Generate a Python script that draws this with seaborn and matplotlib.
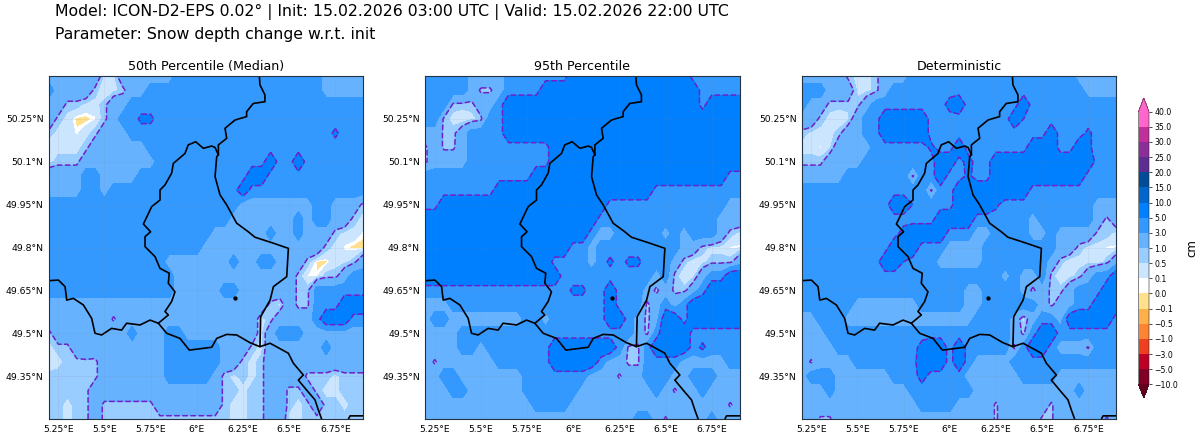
import numpy as np
import seaborn as sns
import matplotlib
matplotlib.use('Agg')
import matplotlib.pyplot as plt
from matplotlib.colors import ListedColormap, BoundaryNorm

sns.set_style('white', {'text.color': 'black', 'xtick.color': 'black', 'ytick.color': 'black',
                        'axes.labelcolor': 'black'})
plt.rcParams['font.family'] = ['DejaVu Sans']

# snow depth change in cm, rows north to south, 0.05 deg grid
lons = np.arange(35) * 0.05 + 5.2
lats = 50.4 - np.arange(25) * 0.05

median_rows = [
    [2,2,2,2,2,2,.3,.3,2,2,2,2,2,2,4,4,4,4,4,4,4,4,4,4,4,4,4,4,4,4,2,2,2,2,2],
    [4,2,2,2,2,.7,.05,.3,.7,2,2,4,4,4,4,4,4,4,4,4,4,4,4,4,4,4,4,4,4,4,2,2,2,2,2],
    [2,2,.7,.7,.3,.3,.7,2,2,4,4,4,4,4,4,4,4,4,4,4,4,4,4,4,4,4,4,4,4,4,4,4,4,4,4],
    [2,.7,.3,-.09,-.09,.05,.7,2,4,4,5.5,5.5,4,4,4,4,4,4,4,4,4,4,4,4,4,4,4,4,4,4,4,4,4,4,4],
    [.7,.3,.3,.05,.3,.7,2,2,2,4,4,4,4,4,4,4,4,4,4,4,4,4,4,4,4,4,4,4,4,4,4,5.5,4,4,4],
    [.05,.3,.3,.3,.7,2,2,2,2,2,2,4,4,4,4,4,4,4,4,4,4,4,4,4,4,4,4,4,4,4,4,4,4,4,4],
    [.3,.7,.7,.7,2,2,2,2,2,2,2,2,4,4,4,4,4,4,4,4,4,4,4,4,7,4,4,7,4,4,4,4,4,4,4],
    [2,2,2,2,4,4,2,2,2,2,4,4,4,4,4,4,4,4,4,4,4,4,7,7,4,4,4,4,4,4,4,4,4,4,4],
    [2,2,2,2,4,4,2,4,4,4,4,4,4,4,4,4,4,4,4,4,4,7,4,4,4,4,4,4,4,4,4,4,4,4,4],
    [4,4,4,4,4,4,4,4,4,4,4,4,4,4,4,4,4,4,4,4,4,2,2,2,2,2,2,2,2,4,4,2,2,2,.7],
    [4,4,4,4,4,4,4,4,4,4,4,4,4,4,4,4,4,4,4,4,2,2,2,2,2,2,2,4,2,4,4,2,2,.7,.3],
    [4,4,4,4,4,4,4,4,4,4,4,4,4,4,4,4,4,4,2,2,2,2,2,2,4,2,2,4,2,2,2,.7,.3,.3,.05],
    [4,4,4,4,4,4,4,4,4,4,4,4,4,4,4,4,4,2,2,2,2,2,2,2,2,2,2,2,2,2,.7,.3,.05,-.09,-.09],
    [4,4,4,4,4,4,4,4,4,4,4,4,4,2,2,2,2,2,2,2,4,2,2,4,4,2,2,2,.7,-.09,-.09,.3,.3,.7,2],
    [4,4,4,4,4,4,4,4,4,4,4,4,4,4,2,2,2,2,2,2,2,2,2,2,2,2,2,.7,.05,.05,.7,.7,2,4,4],
    [4,4,4,4,4,4,4,4,4,4,4,4,4,4,2,2,2,2,2,4,4,2,2,2,2,2,2,.7,.7,4,4,4,4,4,4],
    [2,2,2,2,2,2,2,2,2,2,2,2,2,2,2,2,2,2,2,2,2,2,2,2,.7,.3,2,.7,.7,4,4,4,7,7,7],
    [2,2,2,2,2,2,2,.8,2,2,2,2,2,2,2,2,2,2,2,2,2,2,2,.3,.7,2,2,2,2,4,7,7,7,4,4],
    [.7,2,2,2,2,2,2,2,2,4,2,2,2,4,4,2,2,2,2,2,2,2,2,.3,2,4,4,4,2,2,2,2,2,2,2],
    [.3,.7,.7,2,2,2,2,2,2,2,2,2,2,4,4,4,4,4,4,2,2,2,.7,.3,2,2,2,2,2,2,4,2,2,2,2],
    [.05,.3,.7,.7,.8,.7,2,2,2,2,2,2,2,4,4,4,4,4,4,2,2,.7,.3,.7,2,2,2,2,2,2,2,2,2,2,2],
    [.7,.7,.7,.7,.7,.7,2,2,2,2,2,2,2,4,4,4,4,4,2,.7,.3,.7,.3,.7,2,2,2,2,.7,.7,.7,.3,.7,.7,.7],
    [.7,.7,.7,.7,.7,2,2,2,2,2,2,2,2,2,2,2,2,2,2,.7,.7,.3,.7,.7,2,2,.7,.7,2,.7,.3,.3,.7,.7,.7],
    [.7,.7,.3,.7,.7,2,.7,.7,.7,.7,.7,.7,2,2,2,2,2,2,2,.7,.3,.3,.7,.7,2,2,.7,.3,.7,2,.7,.7,.3,.7,.7],
    [.7,.7,.3,.7,.7,2,.7,.7,.7,.7,.7,.7,.7,.7,.7,.7,.7,.7,.7,.7,.3,.3,.7,.7,2,2,.3,.3,.7,.7,.7,.7,.7,.7,.7],
]

p95_rows = [
    [4,4,4,4,4,2,2,2,2,4,4,4,4,4,4,4,7,7,7,7,7,7,7,7,7,7,7,7,7,4,4,4,4,4,4],
    [4,4,4,4,4,2,.8,.8,2,4,4,4,4,7,7,7,7,7,7,7,7,7,7,7,7,7,7,7,7,7,4,4,4,4,4],
    [4,4,4,.7,.7,.7,2,2,4,7,7,7,7,7,7,7,7,7,7,7,7,7,7,7,7,7,7,7,7,7,4,7,7,7,7],
    [4,4,.7,.3,.05,.3,.7,4,4,7,7,7,7,7,7,7,7,7,7,7,7,7,7,7,7,7,7,7,7,7,7,7,7,7,7],
    [2,2,.8,.7,2,4,4,4,4,7,7,7,7,7,7,7,7,7,7,7,7,7,7,7,7,7,7,7,7,7,7,7,7,7,7],
    [.8,2,.8,.8,2,4,4,4,4,4,4,4,4,4,7,7,7,7,7,7,7,7,7,7,7,7,7,7,7,7,7,7,7,7,7],
    [.8,2,2,2,2,4,4,4,4,4,4,4,4,4,7,7,7,7,7,7,7,7,7,7,7,7,7,7,7,7,7,7,7,7,7],
    [4,4,4,4,4,4,4,4,4,4,4,4,7,7,7,7,7,7,7,7,7,7,7,7,7,7,7,7,7,7,7,7,7,4,4],
    [4,4,4,4,4,4,4,4,7,7,7,7,7,7,7,7,7,7,7,7,7,7,7,7,7,4,4,4,4,4,4,4,4,4,4],
    [4,4,7,7,7,7,7,7,7,7,7,7,7,7,7,7,7,7,7,7,4,4,4,4,4,4,4,4,4,4,4,4,4,2,2],
    [7,7,7,7,7,7,7,7,7,7,7,7,7,7,7,7,7,7,7,4,4,4,4,4,4,4,4,4,4,4,4,4,2,2,2],
    [7,7,7,7,7,7,7,7,7,7,7,7,7,7,7,7,7,7,4,2,2,4,4,4,4,4,2,4,2,4,4,4,2,.7,.3],
    [7,7,7,7,7,7,7,7,7,7,7,7,7,7,7,7,4,4,2,4,4,4,4,4,4,4,4,4,2,2,.7,.3,.3,.05,.05],
    [7,7,7,7,7,7,7,7,7,7,7,7,7,7,4,4,4,4,2,4,5.5,4,5.5,5.5,4,4,4,2,.7,.05,.3,.7,.7,.7,2],
    [7,7,7,7,7,7,7,7,7,7,7,7,7,7,7,4,4,4,4,4,4,4,4,4,4,2,4,.7,.05,.3,2,4,4,7,7],
    [4,4,4,4,4,4,4,4,4,4,4,4,4,4,4,4,5.5,5.5,4,4,7,4,4,4,2,.7,2,.7,.7,2,4,7,7,7,7],
    [2,2,2,4,4,4,4,4,4,4,4,4,4,4,4,4,4,4,4,4,7,4,4,4,.7,2,4,2,4,7,7,7,7,7,7],
    [2,4,4,2,2,2,2,2,2,2,2,4,4,2,4,4,4,4,4,4,7,7,4,2,.7,2,7,7,4,7,7,7,7,7,7],
    [2,2,2,2,4,4,4,4,4,4,4,4,4,4,4,4,4,4,4,4,4,4,4,2,.7,4,7,7,7,4,4,4,4,4,4],
    [2,2,2,2,4,4,2,4,4,4,4,4,4,4,7,7,7,7,7,7,7,4,.7,.7,4,7,7,7,7,4,5.5,4,4,4,4],
    [2,.8,2,2,2,2,2,2,4,4,4,4,4,4,7,7,7,7,7,4,2,2,.7,.7,4,4,4,4,2,2,2,2,2,4,4],
    [2,2,4,4,2,2,2,2,2,2,2,4,4,4,4,4,4,4,2,2,2,.8,2,2,4,4,4,2,2,4,4,4,2,2,2],
    [2,2,2,4,4,2,2,2,2,2,2,4,4,4,4,4,4,2,2,2,2,2,2,2,2,4,2,.8,2,2,4,2,2,2,2],
    [2,2,2,2,2,2,2,2,2,2,2,2,4,4,4,4,2,2,2,2,2,2,2,2,2,2,2,2,2,2,2,2,2,.8,2],
    [2,2,2,2,2,2,2,2,2,2,2,2,2,2,2,2,2,2,2,2,2,2,2,4,4,2,.8,2,2,2,2,4,2,2,2],
]

det_rows = [
    [2,2,2,2,2,.7,.3,.3,.7,2,2,2,4,4,4,4,4,4,4,4,4,4,4,4,4,4,4,4,4,4,2,2,2,2,2],
    [4,4,4,2,2,2,.3,.3,.7,2,4,4,4,4,4,4,4,4,4,4,4,4,4,4,4,4,4,4,4,4,4,2,2,2,2],
    [4,2,2,.7,.7,.7,.7,2,4,4,4,4,4,4,4,4,6,7,4,4,4,4,4,4,7,4,4,4,4,4,4,4,4,4,4],
    [2,2,.7,.3,.05,.3,2,4,4,7,7,7,7,7,4,4,4,4,4,4,4,4,4,7,5,4,4,4,4,4,4,4,4,4,4],
    [.7,.3,.3,.3,.7,2,2,4,4,7,7,7,7,7,4,4,4,4,4,4,4,4,4,4,4,4,4,7,4,4,4,5.5,4,4,4],
    [.3,.3,.05,.3,2,2,2,2,4,4,4,4,4,4,5.5,4,4,7,4,4,4,4,4,4,4,7,7,7,4,4,7,5.5,4,4,4],
    [.7,.7,.7,2,2,2,2,4,4,4,4,4,4,4,4,7,7,4,6,4,4,7,7,7,7,7,7,7,7,7,7,7,4,4,4],
    [2,2,2,2,2,4,4,4,4,4,4,4,.8,4,4,7,4,4,5.5,4,4,7,7,7,7,7,7,7,7,7,7,4,4,4,4],
    [4,4,4,4,4,4,4,4,4,4,4,4,4,4,.8,4,4,7,7,7,7,7,7,7,7,4,4,4,4,4,4,4,4,4,4],
    [4,4,4,4,4,4,4,4,4,4,7,7,5,4,4,4,4,7,7,7,7,5.5,4,4,4,4,4,4,4,4,4,4,2,2,2],
    [4,4,4,4,4,4,4,4,4,4,4,4,4,4,4,7,7,7,7,4,4,4,4,4,4,2,4,4,4,4,4,4,2,.8,2],
    [4,4,4,4,4,4,4,4,4,4,4,6,7,7,7,7,4,4,4,2,2,4,4,4,4,2,2,4,2,2,2,2,.8,.7,.3],
    [4,4,4,4,4,4,4,4,4,4,7,7,7,4,4,4,2,2,2,2,4,4,4,4,4,4,4,4,2,2,.7,.3,.3,.05,.05],
    [4,4,4,4,4,4,4,4,4,7,7,5,4,4,4,2,2,2,2,2,4,4,4,4,4,4,4,2,.7,.05,.3,.3,.05,.7,2],
    [4,4,4,4,4,4,4,4,4,4,4,4,4,4,4,4,4,4,4,4,4,4,2,4,2,2,4,.7,.05,.3,.7,2,4,4,7],
    [4,4,4,4,4,4,4,4,4,4,4,4,4,4,4,4,4,4,2,2,4,4,4,4,2,.7,2,.7,.7,2,4,4,4,7,7],
    [4,4,4,4,4,4,2,2,2,2,2,2,2,4,4,4,4,4,2,2,4,4,4,4,4,4,2,.7,2,2,4,4,7,7,7],
    [2,2,4,4,4,2,2,2,2,2,2,2,2,2,2,2,2,2,2,4,4,4,4,2,.3,2,4,4,2,7,7,7,7,7,4],
    [2,2,2,4,4,4,4,4,4,4,4,4,4,4,4,4,4,4,4,4,4,4,4,2,.7,4,7,7,4,4,4,4,4,4,4],
    [2,2,2,2,4,4,4,4,4,4,4,4,4,6,7,7,4,7,4,4,4,4,4,.7,4,7,7,4,2,2,2,.8,4,4,4],
    [2,.8,2,2,2,2,4,4,4,4,4,4,4,7,7,7,4,7,4,2,2,2,2,4,4,4,4,4,4,4,4,4,4,4,4],
    [2,4,4,4,2,2,2,2,2,2,4,4,4,6,4,4,4,4,2,2,2,2,2,2,4,4,4,4,2,2,2,2,2,2,2],
    [2,2,2,4,2,2,2,2,2,2,2,2,4,4,4,4,4,4,4,2,2,2,2,2,2,2,2,2,2,2,4,2,2,2,2],
    [2,2,2,2,2,2,2,2,2,2,2,2,2,4,4,4,4,2,2,2,2,.8,2,2,2,2,2,.8,2,2,2,2,2,2,2],
    [2,2,.8,.8,2,2,2,2,2,2,2,2,2,2,2,2,2,2,2,2,2,.8,2,2,2,2,.8,.8,2,2,2,2,2,.8,2],
]

panel_titles = ['50th Percentile (Median)', '95th Percentile', 'Deterministic']
panel_rows = [median_rows, p95_rows, det_rows]

levels = [-10, -5, -3, -1, -0.5, -0.1, 0, 0.1, 0.5, 1, 3, 5, 10, 15, 20, 25, 30, 35, 40]
level_labels = ['\u221210.0', '\u22125.0', '\u22123.0', '\u22121.0', '\u22120.5', '\u22120.1', '0.0', '0.1', '0.5',
                '1.0', '3.0', '5.0', '10.0', '15.0', '20.0', '25.0', '30.0', '35.0', '40.0']
level_colors = ['#800026', '#bd0026', '#ee4020', '#fd8432', '#feb04a', '#ffe08c', '#ffffff', '#cce5ff', '#99ccff',
                '#66b2ff', '#3399ff', '#0080ff', '#0066cc', '#004c99', '#5e2d91', '#8c2e9a', '#c0309a', '#ff66cc']
contour_levels = [1, 5]

# borders, lon/lat
north_lon = [6.339, 6.342, 6.369, 6.369, 6.306, 6.270, 6.270, 6.207, 6.153, 6.162, 6.117, 6.117]
north_lat = [50.400, 50.369, 50.334, 50.310, 50.304, 50.275, 50.258, 50.246, 50.217, 50.182, 50.159, 50.124]

lux_lon = [6.117, 6.099, 6.081, 6.036, 5.994, 5.954, 5.936, 5.873, 5.864, 5.828, 5.801, 5.801, 5.756, 5.711, 5.750,
           5.720, 5.720, 5.774, 5.801, 5.851, 5.846, 5.882, 5.864, 5.828, 5.846, 5.792, 5.837, 5.909, 5.960, 6.081,
           6.108, 6.162, 6.216, 6.288, 6.342, 6.346, 6.397, 6.415, 6.487, 6.496, 6.415, 6.315, 6.279, 6.216, 6.162,
           6.126, 6.099, 6.108, 6.117]
lux_lat = [50.124, 50.150, 50.155, 50.147, 50.170, 50.159, 50.129, 50.094, 50.060, 50.019, 50.001, 49.966, 49.943,
           49.882, 49.855, 49.838, 49.803, 49.768, 49.727, 49.710, 49.675, 49.645, 49.611, 49.576, 49.564, 49.535,
           49.500, 49.482, 49.441, 49.451, 49.482, 49.496, 49.494, 49.467, 49.453, 49.558, 49.616, 49.663, 49.698,
           49.797, 49.815, 49.836, 49.855, 49.885, 49.949, 49.984, 50.048, 50.118, 50.124]

west_lon = [5.200, 5.251, 5.287, 5.296, 5.332, 5.386, 5.431, 5.449, 5.485, 5.539, 5.593, 5.620, 5.693, 5.747, 5.792]
west_lat = [49.684, 49.686, 49.663, 49.616, 49.622, 49.599, 49.552, 49.500, 49.494, 49.517, 49.511, 49.535, 49.529,
            49.546, 49.535]

south_lon = [6.342, 6.397, 6.496, 6.523, 6.577, 6.550, 6.595, 6.640, 6.658, 6.676]
south_lat = [49.453, 49.465, 49.430, 49.395, 49.354, 49.336, 49.301, 49.267, 49.232, 49.200]

corner_lon = [6.821, 6.830, 6.900]
corner_lat = [49.200, 49.211, 49.211]

city_lon = [6.209]
city_lat = [49.622]

lon_ticks = [5.25, 5.5, 5.75, 6, 6.25, 6.5, 6.75]
lon_labels = ['5.25°E', '5.5°E', '5.75°E', '6°E', '6.25°E', '6.5°E', '6.75°E']
lat_ticks = [49.35, 49.5, 49.65, 49.8, 49.95, 50.1, 50.25]
lat_labels = ['49.35°N', '49.5°N', '49.65°N', '49.8°N', '49.95°N', '50.1°N', '50.25°N']

palette = sns.color_palette(level_colors)
cmap = ListedColormap(palette)
cmap.set_under('#67001f')
cmap.set_over('#ff66cc')
norm = BoundaryNorm(levels, cmap.N)

W, H = 1200, 438
fig = plt.figure(figsize=(12, 4.38), dpi=100)

lefts = [49, 425.5, 802]
for left, title, rows in zip(lefts, panel_titles, panel_rows):
    ax = fig.add_axes([left / W, 1 - 419 / H, 314 / W, 343 / H])
    grid = np.array(rows, dtype=float)
    cf = ax.contourf(lons, lats, grid, levels=levels, cmap=cmap, norm=norm, extend='both')
    ax.contour(lons, lats, grid, levels=contour_levels, colors='#7020c8', linestyles='--', linewidths=1.1)
    for bx, by in [(north_lon, north_lat), (lux_lon, lux_lat), (west_lon, west_lat),
                   (south_lon, south_lat), (corner_lon, corner_lat)]:
        sns.lineplot(x=bx, y=by, sort=False, estimator=None, color='black', linewidth=1.2, ax=ax)
    sns.scatterplot(x=city_lon, y=city_lat, color='black', s=8, edgecolor='black', ax=ax, zorder=5)
    ax.set_xlim(5.2, 6.9)
    ax.set_ylim(49.2, 50.4)
    ax.set_xticks(lon_ticks)
    ax.set_xticklabels(lon_labels)
    ax.set_yticks(lat_ticks)
    ax.set_yticklabels(lat_labels)
    ax.tick_params(labelsize=6.7, length=0, pad=4)
    ax.grid(True, color='gray', alpha=0.15, linewidth=0.5)
    ax.set_axisbelow(False)
    ax.set_title(title, fontsize=9.1, pad=4)
    for s in ax.spines.values():
        s.set_visible(True)
        s.set_color('#223344')
        s.set_linewidth(0.8)

cax = fig.add_axes([1138.5 / W, 1 - 398 / H, 10.5 / W, 300 / H])
cbar = fig.colorbar(cf, cax=cax, ticks=levels, extendfrac=0.05, spacing='uniform')
cbar.ax.set_yticklabels(level_labels)
cbar.ax.tick_params(labelsize=5.6, length=2, width=0.5, pad=2, right=True)
cbar.outline.set_linewidth(0.4)
cbar.set_label('cm', fontsize=8.5, labelpad=5)

fig.text(55 / W, 1 - 12 / H, 'Model: ICON-D2-EPS 0.02° | Init: 15.02.2026 03:00 UTC | Valid: 15.02.2026 22:00 UTC',
         fontsize=11.35, va='center', ha='left')
fig.text(55 / W, 1 - 34 / H, 'Parameter: Snow depth change w.r.t. init', fontsize=11.35, va='center', ha='left')

fig.savefig('out.png', dpi=100)
